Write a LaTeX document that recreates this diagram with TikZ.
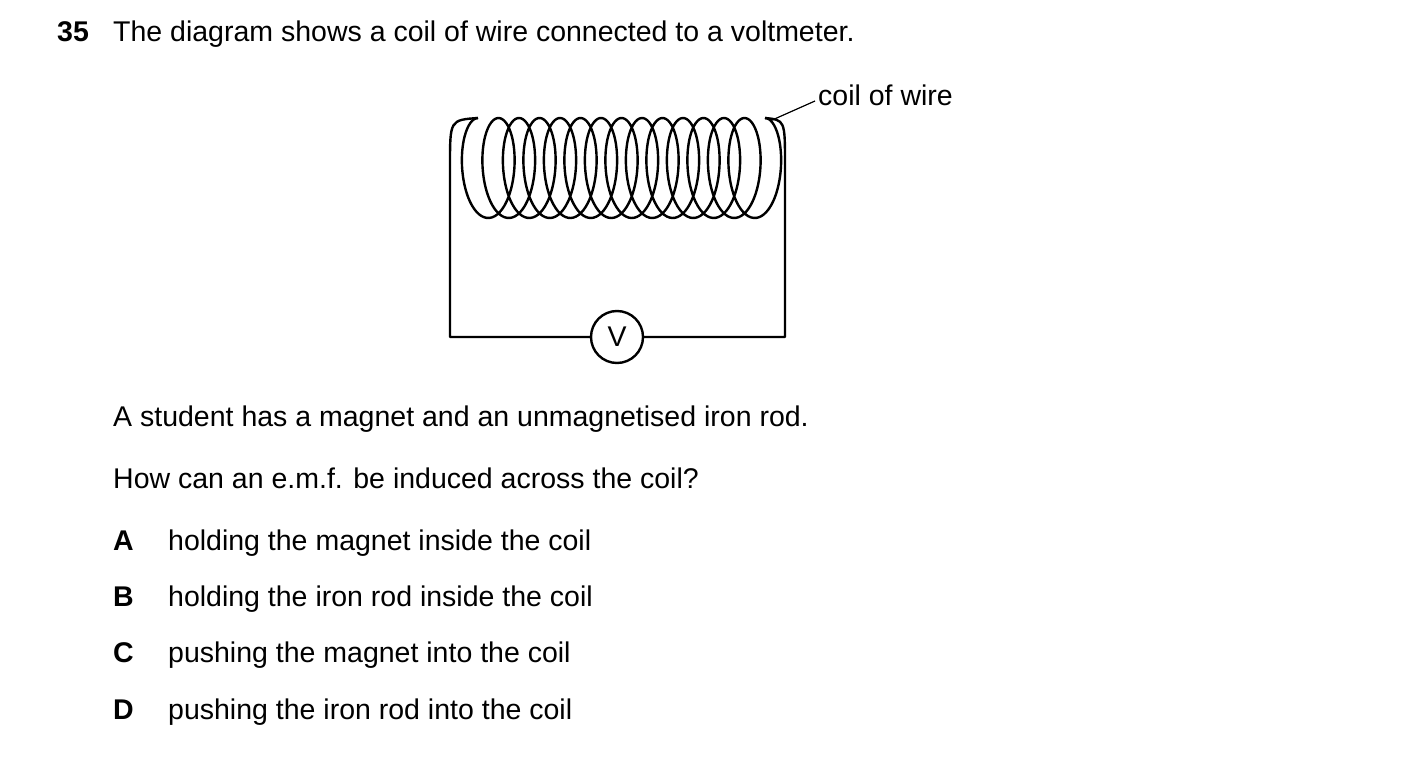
\documentclass[tikz,border=0pt]{standalone}
\usepackage{fontspec}
\setmainfont{Liberation Sans}
\usetikzlibrary{positioning}
\begin{document}
\begin{tikzpicture}[x=1pt, y=-1pt, font=\fontsize{28.5}{32}\selectfont]
		\tikzstyle{wire} = [line width=2.4pt, line join=round]
		\tikzstyle{txt} = [anchor=base west, inner sep=0pt]
		\tikzstyle{meter} = [circle, draw=black, line width=2.4pt, fill=white, minimum size=52pt, inner sep=0pt]
		
		\useasboundingbox (0,0) rectangle (1403,773);
		
		% Question
		\node (num) [txt] at (57,42) {\textbf{35}};
		\node (q) [txt] at (113,42) {The diagram shows a coil of wire connected to a voltmeter.};
		
		% Circuit
		\coordinate (tl) at (450,165);
		\coordinate (bl) at (450,337);
		\coordinate (tr) at (785,165);
		\coordinate (br) at (785,337);
		\coordinate (cs) at (478,118);
		\coordinate (ce) at (765,118);
		\node (v) [meter] at (617,337) {V};
		\draw [wire] (v.west) -- (bl) -- (tl) .. controls (450,120) .. (cs);
		\draw [wire] (v.east) -- (br) -- (tr) .. controls (785,120) .. (ce);
		\draw [wire, domain=0:87.9646, samples=800, smooth, variable=\t]
			plot ({478 + 20.5*\t/6.28319 - 21*sin(\t r)}, {168 - 50*cos(\t r)});
		
		% Label
		\node (lab) [txt] at (818,106) {coil of wire};
		\draw [line width=1.2pt] (770,121) -- (815,101);
		
		% Text
		\node (s1) [txt] at (113,426) {A student has a magnet and an unmagnetised iron rod.};
		\node (s2) [txt] at (113,488) {How can an e.m.f. be induced across the coil?};
		\node (la) [txt] at (113,550) {\textbf{A}};
		\node (oa) [txt] at (168,550) {holding the magnet inside the coil};
		\node (lb) [txt] at (113,606) {\textbf{B}};
		\node (ob) [txt] at (168,606) {holding the iron rod inside the coil};
		\node (lc) [txt] at (113,662) {\textbf{C}};
		\node (oc) [txt] at (168,662) {pushing the magnet into the coil};
		\node (ld) [txt] at (113,719) {\textbf{D}};
		\node (od) [txt] at (168,719) {pushing the iron rod into the coil};
	\end{tikzpicture}
\end{document}
